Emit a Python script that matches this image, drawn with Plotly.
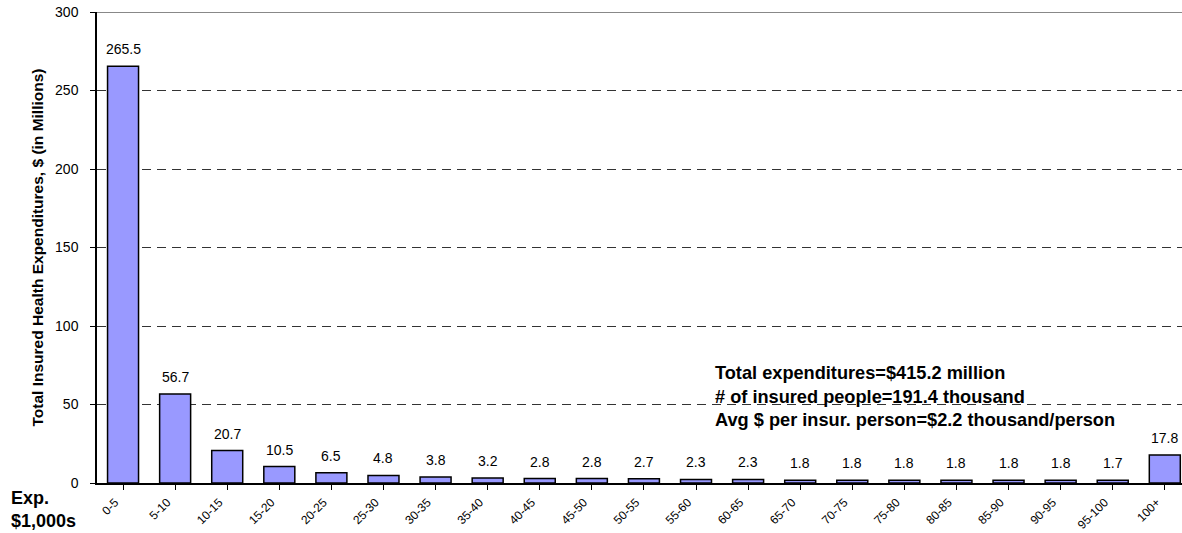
import plotly.graph_objects as go

categories = ["0-5", "5-10", "10-15", "15-20", "20-25", "25-30", "30-35", "35-40",
              "40-45", "45-50", "50-55", "55-60", "60-65", "65-70", "70-75", "75-80",
              "80-85", "85-90", "90-95", "95-100", "100+"]
values = [265.5, 56.7, 20.7, 10.5, 6.5, 4.8, 3.8, 3.2, 2.8, 2.8, 2.7, 2.3, 2.3,
          1.8, 1.8, 1.8, 1.8, 1.8, 1.8, 1.7, 17.8]
y_ticks = [0, 50, 100, 150, 200, 250, 300]
summary_lines = ["Total expenditures=$415.2 million",
                 "# of insured people=191.4 thousand",
                 "Avg $ per insur. person=$2.2 thousand/person"]

FONT = "Arial, 'Liberation Sans', sans-serif"

fig = go.Figure()
fig.add_trace(go.Bar(
    x=list(range(len(categories))), y=values,
    marker=dict(color="#9999FF", line=dict(color="black", width=1.5)),
    hoverinfo="skip",
))

annotations = []
for i, v in enumerate(values):
    annotations.append(dict(x=i, y=v, xref="x", yref="y", text=f"{v:.1f}",
                            showarrow=False, yanchor="middle", yshift=17,
                            font=dict(family=FONT, size=14, color="black")))

annotations.append(dict(x=11.33, y=55, xref="x", yref="y", xanchor="left",
                        yanchor="middle", align="left", showarrow=False,
                        text="<br>".join(f"<b>{s}</b>" for s in summary_lines),
                        font=dict(family=FONT, size=18.2, color="black")))

annotations.append(dict(x=0, y=0, xref="paper", yref="paper", xanchor="left",
                        yanchor="middle", xshift=-88, yshift=-26, align="left",
                        showarrow=False, text="<b>Exp.</b><br><b>$1,000s</b>",
                        font=dict(family=FONT, size=18, color="black")))

fig.update_layout(
    width=1182, height=533,
    margin=dict(l=97, r=0, t=12, b=50),
    paper_bgcolor="white", plot_bgcolor="white",
    showlegend=False, bargap=0.405,
    annotations=annotations,
    font=dict(family=FONT, color="black"),
)

fig.update_xaxes(
    range=[-0.5, 20.33], tickmode="array", automargin=False,
    tickvals=list(range(len(categories))), ticktext=categories,
    tickangle=-45, tickson="boundaries", ticks="outside", ticklen=5,
    tickcolor="black", showline=True, linecolor="black", linewidth=1.5,
    showgrid=False, zeroline=False, ticklabelstandoff=1, ticklabelshift=-8,
    tickfont=dict(family=FONT, size=12, color="black"),
)
fig.update_yaxes(
    range=[0, 300], tickmode="array", tickvals=y_ticks, automargin=False,
    ticks="outside", ticklen=5, tickcolor="black",
    showline=True, linecolor="black", linewidth=1.5,
    showgrid=True, gridcolor="#333333", gridwidth=1, griddash="9px,6px",
    zeroline=False, ticklabelstandoff=9,
    tickfont=dict(family=FONT, size=14, color="black"),
    title=dict(text="<b>Total Insured Health Expenditures, $ (in Millions)</b>",
               font=dict(family=FONT, size=15.5, color="black"), standoff=8),
)

fig.add_shape(type="line", xref="paper", yref="y", x0=0, x1=1, y0=300, y1=300,
              line=dict(color="#888888", width=2))

fig.write_html("out.html")
